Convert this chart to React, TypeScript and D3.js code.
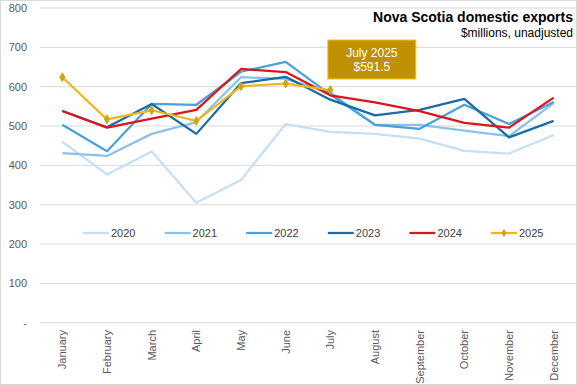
import React from "react";
import * as d3 from "d3";

const months = ["January","February","March","April","May","June","July","August","September","October","November","December"];
const years = ["2020","2021","2022","2023","2024","2025"];
const v2020 = [460, 377, 435, 305, 363, 505, 485, 480, 468, 437, 430, 477];
const v2021 = [431, 424, 480, 510, 624, 620, 585, 503, 503, 488, 474, 558];
const v2022 = [503, 436, 556, 554, 638, 663, 580, 503, 493, 554, 505, 561];
const v2023 = [538, 497, 556, 480, 609, 625, 567, 527, 541, 569, 471, 513];
const v2024 = [538, 496, 519, 541, 645, 637, 578, 560, 538, 508, 496, 572];
const v2025 = [624, 517, 540, 513, 601, 608, 591.5];
const yTicks = [0, 100, 200, 300, 400, 500, 600, 700, 800];
const colors = ["#C5DFF4", "#8DC1E9", "#4AA0DD", "#1C6AA6", "#D9161C", "#EDB81E"];
const title = "Nova Scotia domestic exports";
const subtitle = "$millions, unadjusted";
const calloutLabel = "July 2025";

export default function App() {
  const W = 577, H = 385;
  const series = [v2020, v2021, v2022, v2023, v2024, v2025];
  const x = d3.scalePoint<string>().domain(months).range([40, 576]).padding(0.5);
  const y = d3.scaleLinear().domain([0, 800]).range([322.7, 8]);
  const line = d3.line<number>().x((_, i) => x(months[i]) as number).y(d => y(d));
  const font = "'Liberation Sans', Arial, sans-serif";
  const narrow = "'Liberation Sans Narrow', 'Arial Narrow', 'Liberation Sans', Arial, sans-serif";
  const diamond = d3.symbol().type(d3.symbolDiamond).size(22)();
  const legendX = (i: number) => 83 + i * 81.6;
  const julyX = x("July") as number;
  const last = v2025[v2025.length - 1];
  return (
    <svg width={W} height={H} style={{ position: "absolute", left: 0, top: 0, background: "#fff" }}>
      <rect x={0.5} y={0.5} width={W - 1} height={H - 1} fill="#fff" stroke="#D9D9D9" />
      {yTicks.map(t => (
        <g key={t}>
          <line x1={40} x2={576} y1={y(t)} y2={y(t)} stroke="#D9D9D9" strokeWidth={1} />
          <text x={27} y={y(t)} dy="0.35em" textAnchor="end" fontFamily={font} fontSize={11} fill="#595959">
            {t === 0 ? "-" : t}
          </text>
        </g>
      ))}
      {months.map(m => (
        <text key={m} transform={`translate(${x(m)},330) rotate(-90)`} dy="0.35em" textAnchor="end"
          fontFamily={font} fontSize={11} fill="#595959">{m}</text>
      ))}
      {series.map((s, i) => (
        <path key={years[i]} d={line(s) || ""} fill="none" stroke={colors[i]} strokeWidth={2.25} strokeLinejoin="round" />
      ))}
      {v2025.map((v, i) => (
        <path key={i} d={diamond || ""} transform={`translate(${x(months[i])},${y(v)})`} fill="#CFA416" stroke="#CFA416" />
      ))}
      {years.map((yr, i) => (
        <g key={yr}>
          <line x1={legendX(i)} x2={legendX(i) + 26} y1={233} y2={233} stroke={colors[i]} strokeWidth={2.25} />
          {i === 5 && <path d={diamond || ""} transform={`translate(${legendX(i) + 13},233)`} fill="#CFA416" />}
          <text x={legendX(i) + 28} y={233} dy="0.35em" fontFamily={font} fontSize={11} fill="#404040">{yr}</text>
        </g>
      ))}
      <g>
        <rect x={julyX - 2.5} y={40} width={88} height={39} fill="#BF9000" stroke="#FFC000" strokeWidth={1} />
        <text x={julyX + 41.5} y={57} textAnchor="middle" fontFamily={narrow} fontSize={12} fill="#fff">{calloutLabel}</text>
        <text x={julyX + 41.5} y={70.5} textAnchor="middle" fontFamily={narrow} fontSize={12} fill="#fff">{`$${last.toFixed(1)}`}</text>
      </g>
      <text x={573} y={22} textAnchor="end" fontFamily={narrow} fontSize={14} fontWeight="bold" fill="#000">{title}</text>
      <text x={573} y={37} textAnchor="end" fontFamily={narrow} fontSize={12} fill="#000">{subtitle}</text>
    </svg>
  );
}
